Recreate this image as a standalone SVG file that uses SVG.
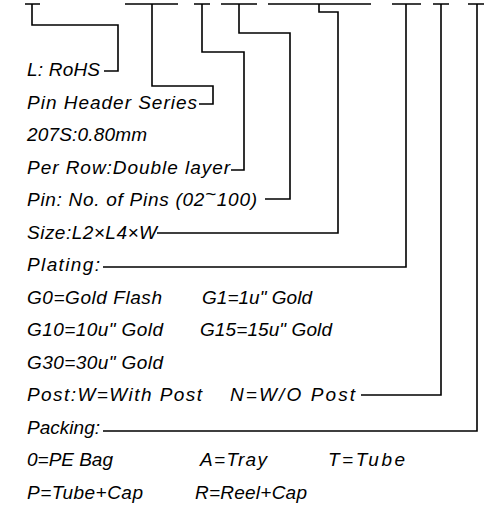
<svg xmlns="http://www.w3.org/2000/svg" width="500" height="507" viewBox="0 0 500 507">
<style>
text{font-family:"Liberation Sans","DejaVu Sans",sans-serif;font-size:19px;font-style:italic;fill:#000}
.c{fill:none;stroke:#000;stroke-width:1.6;stroke-linejoin:miter;stroke-linecap:butt}
</style>
<rect width="500" height="507" fill="#fff"/>
<g id="connectors">
<path class="c" d="M25,4H40M32,4V25H118V71H104"/>
<path class="c" d="M125,4H178M152,4V86H213V104H199"/>
<path class="c" d="M194,4H210M202,4V52H244V170H231"/>
<path class="c" d="M221,4H257M239,4V33H290V199H265"/>
<path class="c" d="M268,4H371M319,4V12H338V233H157"/>
<path class="c" d="M392,4H421M406,4V267H103"/>
<path class="c" d="M433,4H449M441,4V395H361"/>
<path class="c" d="M468,4H484M477,4V431H103"/>
</g>
<g id="rohs"><text x="27" y="76" textLength="73" lengthAdjust="spacing">L: RoHS</text></g>
<g id="series"><text x="27" y="108.5" textLength="170" lengthAdjust="spacing">Pin Header Series</text></g>
<g id="pitch"><text x="27" y="141" textLength="120" lengthAdjust="spacing">207S:0.80mm</text></g>
<g id="row"><text x="27" y="173.5" textLength="203" lengthAdjust="spacing">Per Row:Double layer</text></g>
<g id="pins"><text x="27" y="206" textLength="230" lengthAdjust="spacing">Pin: No. of Pins (02<tspan dy="-6">~</tspan><tspan dy="6">100)</tspan></text></g>
<g id="size"><text x="27" y="238.5" textLength="130" lengthAdjust="spacing">Size:L2×L4×W</text></g>
<g id="plating">
<text x="27" y="271" textLength="73" lengthAdjust="spacing">Plating:</text>
<text x="27" y="303.5" textLength="135" lengthAdjust="spacing">G0=Gold Flash</text>
<text x="202" y="303.5" textLength="110" lengthAdjust="spacing">G1=1u" Gold</text>
<text x="27" y="336" textLength="136" lengthAdjust="spacing">G10=10u" Gold</text>
<text x="200" y="336" textLength="132" lengthAdjust="spacing">G15=15u" Gold</text>
<text x="27" y="368.5" textLength="136" lengthAdjust="spacing">G30=30u" Gold</text>
</g>
<g id="post">
<text x="27" y="401" textLength="175" lengthAdjust="spacing">Post:W=With Post</text>
<text x="230" y="401" textLength="125" lengthAdjust="spacing">N=W/O Post</text>
</g>
<g id="packing">
<text x="27" y="433.5" textLength="73" lengthAdjust="spacing">Packing:</text>
<text x="27" y="466" textLength="86" lengthAdjust="spacing">0=PE Bag</text>
<text x="200" y="466" textLength="67" lengthAdjust="spacing">A=Tray</text>
<text x="328" y="466" textLength="77" lengthAdjust="spacing">T=Tube</text>
<text x="27" y="498.5" textLength="116" lengthAdjust="spacing">P=Tube+Cap</text>
<text x="195" y="498.5" textLength="112" lengthAdjust="spacing">R=Reel+Cap</text>
</g>
</svg>
